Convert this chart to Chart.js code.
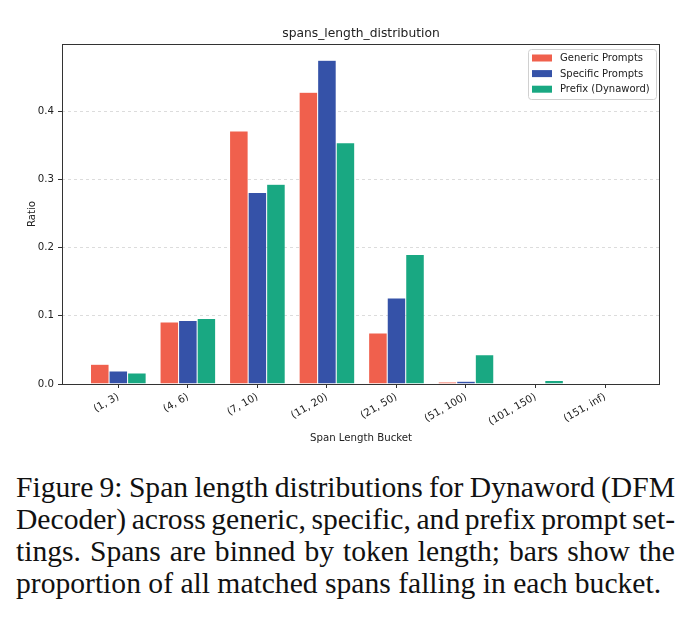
<!DOCTYPE html>
<html>
<head>
<meta charset="utf-8">
<script src="https://cdn.jsdelivr.net/npm/chart.js@4.4.0/dist/chart.umd.min.js"></script>
<style>
    body { margin: 0; background: #fff; width: 691px; height: 640px; overflow: hidden; position: relative; }
    #wrap { position: absolute; left: 0; top: 0; width: 691px; height: 460px; }
    #caption {
        position: absolute; left: 16px; top: 471px; width: 659px;
        font-family: "Liberation Serif", "Times New Roman", serif;
        font-size: 29.6px; line-height: 32px; color: #111;
    }
    #caption div { white-space: nowrap; }
    #caption span { display: inline-block; }
</style>
</head>
<body>
<div id="wrap"><canvas id="spansChart" width="691" height="460"></canvas></div>
<div id="caption">
    <div class="fit"><span>Figure 9: Span length distributions for Dynaword (DFM</span></div>
    <div class="fit"><span>Decoder) across generic, specific, and prefix prompt set-</span></div>
    <div class="fit"><span>tings. Spans are binned by token length; bars show the</span></div>
    <div><span>proportion of all matched spans falling in each bucket.</span></div>
</div>
<script>
const buckets = ["(1, 3)", "(4, 6)", "(7, 10)", "(11, 20)", "(21, 50)", "(51, 100)", "(101, 150)", "(151, inf)"];
const genericPrompts = [0.029, 0.091, 0.371, 0.428, 0.075, 0.003, 0, 0];
const specificPrompts = [0.019, 0.093, 0.281, 0.475, 0.126, 0.004, 0, 0];
const prefixDynaword = [0.016, 0.096, 0.293, 0.354, 0.190, 0.043, 0.005, 0];
const yTicks = [0, 0.1, 0.2, 0.3, 0.4];

const FONT = "'DejaVu Sans', sans-serif";

// justify caption lines like LaTeX does (spaces may shrink or stretch)
document.querySelectorAll("#caption .fit span").forEach((span) => {
    const gaps = span.textContent.split(" ").length - 1;
    const extra = (659 - span.getBoundingClientRect().width) / gaps;
    span.style.wordSpacing = extra + "px";
});

function toPoints(values) {
    return values.map((v, i) => ({ x: i, y: v }));
}

// frame, title, axis titles and the in-plot legend
const decorations = {
    id: "decorations",
    afterDraw(chart) {
        const { ctx, chartArea: a } = chart;
        ctx.save();
        ctx.strokeStyle = "#333";
        ctx.lineWidth = 1;
        ctx.strokeRect(a.left + 0.5, a.top + 0.5, a.right - a.left - 1, a.bottom - a.top);

        ctx.fillStyle = "#222";
        ctx.font = "12.3px " + FONT;
        ctx.textAlign = "center";
        ctx.textBaseline = "alphabetic";
        ctx.fillText("spans_length_distribution", (a.left + a.right) / 2, 37);

        ctx.font = "10.2px " + FONT;
        ctx.fillText("Span Length Bucket", (a.left + a.right) / 2, 441);
        ctx.translate(35, (a.top + a.bottom) / 2);
        ctx.rotate(-Math.PI / 2);
        ctx.fillText("Ratio", 0, 0);
        ctx.setTransform(1, 0, 0, 1, 0, 0);

        // legend box
        const bx = 528, by = 49, bw = 128, bh = 50;
        ctx.fillStyle = "rgba(255,255,255,0.85)";
        ctx.strokeStyle = "#d0d0d0";
        ctx.beginPath();
        ctx.roundRect(bx + 0.5, by + 0.5, bw, bh, 3);
        ctx.fill();
        ctx.stroke();
        ctx.font = "10px " + FONT;
        ctx.textAlign = "left";
        ctx.textBaseline = "middle";
        chart.data.datasets.forEach((ds, i) => {
            const y = 58 + i * 15.6;
            ctx.fillStyle = ds.backgroundColor;
            ctx.fillRect(532, y - 3.5, 20, 7);
            ctx.fillStyle = "#222";
            ctx.fillText(ds.label, 560, y + 0.5);
        });
        ctx.restore();
    }
};

const ctx = document.getElementById("spansChart").getContext("2d");
new Chart(ctx, {
    type: "bar",
    data: {
        datasets: [
            { label: "Generic Prompts", data: toPoints(genericPrompts), backgroundColor: "#f0604d" },
            { label: "Specific Prompts", data: toPoints(specificPrompts), backgroundColor: "#3552a8" },
            { label: "Prefix (Dynaword)", data: toPoints(prefixDynaword), backgroundColor: "#19a882" },
        ],
    },
    options: {
        responsive: false,
        animation: false,
        layout: { padding: { top: 44, right: 31, left: 0, bottom: 0 } },
        datasets: {
            bar: {
                categoryPercentage: 0.8,
                barPercentage: 1.0,
                borderWidth: 0.5,
                borderColor: "rgba(255,255,255,0.5)",
            },
        },
        plugins: { legend: { display: false }, tooltip: { enabled: false } },
        scales: {
            x: {
                type: "linear",
                offset: false,
                min: -0.81,
                max: 7.79,
                afterBuildTicks: (axis) => { axis.ticks = buckets.map((_, i) => ({ value: i })); },
                afterFit: (axis) => { axis.height = 76; },
                grid: { display: true, offset: false, drawOnChartArea: false, drawTicks: true, tickLength: 4, color: "#333" },
                border: { display: false },
                ticks: {
                    autoSkip: false,
                    minRotation: 30,
                    maxRotation: 30,
                    padding: 3,
                    color: "#222",
                    font: { family: FONT, size: 10.2 },
                    callback: (v) => buckets[v],
                },
            },
            y: {
                min: 0,
                max: 0.4988,
                afterBuildTicks: (axis) => { axis.ticks = yTicks.map((v) => ({ value: v })); },
                afterFit: (axis) => { axis.width = 62; },
                grid: { color: "#dcdcdc", tickColor: "#333", tickLength: 4, tickBorderDash: [] },
                border: { display: false, dash: [3, 3] },
                ticks: {
                    padding: 4,
                    color: "#222",
                    font: { family: FONT, size: 10.2 },
                    callback: (v) => v.toFixed(1),
                },
            },
        },
    },
    plugins: [decorations],
});
</script>
</body>
</html>
